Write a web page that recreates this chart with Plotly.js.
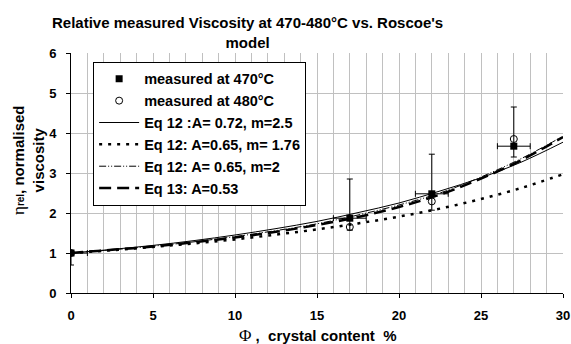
<!DOCTYPE html>
<html>
<head>
<meta charset="utf-8">
<script src="https://cdn.plot.ly/plotly-3.0.1.min.js"></script>
<style>html,body{margin:0;padding:0;background:#fff}#chart{width:571px;height:344px}</style>
</head>
<body>
<div id="chart"></div>
<script>
// measured data
const xMeas = [0, 17, 22, 27];
const y470 = [1.0, 1.87, 2.48, 3.67];
const y470ErrPlus = [0, 0.98, 0.99, 0.98];
const y470ErrMinus = [0.3, 0.3, 0.41, 0.27];
const x470ErrPlus = [1, 1, 1, 1];
const x470ErrMinus = [0, 1, 1, 1];
const y480 = [1.0, 1.65, 2.29, 3.85];

// model curves
const xModel = [0, 2.5, 5, 7.5, 10, 12.5, 15, 17.5, 20, 22.5, 25, 27.5, 30];
const yEq12a = [1.0, 1.09, 1.19, 1.31, 1.45, 1.61, 1.79, 2.01, 2.25, 2.55, 2.88, 3.28, 3.77];
const yEq12b = [1.0, 1.07, 1.15, 1.24, 1.34, 1.46, 1.59, 1.74, 1.91, 2.11, 2.35, 2.63, 2.97];
const yEq12c = [1.0, 1.08, 1.17, 1.28, 1.41, 1.56, 1.73, 1.95, 2.20, 2.50, 2.90, 3.37, 3.92];
const yEq13 = [1.0, 1.08, 1.16, 1.27, 1.39, 1.53, 1.70, 1.90, 2.15, 2.46, 2.86, 3.33, 3.90];

const names = ['measured at 470°C', 'measured at 480°C', 'Eq 12 :A= 0.72, m=2.5',
  'Eq 12: A=0.65, m= 1.76', 'Eq 12: A= 0.65, m=2', 'Eq 13: A=0.53'];

const F = 'Liberation Sans, Arial, sans-serif';
const b = s => '<b>' + s + '</b>';

const traces = [
  {x: xMeas, y: y470, name: b(names[0]), mode: 'markers', type: 'scatter',
   marker: {symbol: 'square', size: 7, color: '#000'},
   error_y: {type: 'data', symmetric: false, array: y470ErrPlus, arrayminus: y470ErrMinus, color: '#000', thickness: 1, width: 3},
   error_x: {type: 'data', symmetric: false, array: x470ErrPlus, arrayminus: x470ErrMinus, color: '#000', thickness: 1, width: 3}},
  {x: xMeas, y: y480, name: b(names[1]), mode: 'markers', type: 'scatter',
   marker: {symbol: 'circle-open', size: 7, color: '#000', line: {width: 1, color: '#000'}}},
  {x: xModel, y: yEq12a, name: b(names[2]), mode: 'lines', type: 'scatter',
   line: {color: '#000', width: 1, shape: 'spline'}},
  {x: xModel, y: yEq12b, name: b(names[3]), mode: 'lines', type: 'scatter',
   line: {color: '#000', width: 2.5, dash: '3px,6px', shape: 'spline'}},
  {x: xModel, y: yEq12c, name: b(names[4]), mode: 'lines', type: 'scatter',
   line: {color: '#000', width: 1, dash: '7px,2px,1px,2px,1px,2px', shape: 'spline'}},
  {x: xModel, y: yEq13, name: b(names[5]), mode: 'lines', type: 'scatter',
   line: {color: '#000', width: 2.5, dash: '12px,6px', shape: 'spline'}}
];

const layout = {
  width: 571, height: 344,
  margin: {l: 71, r: 8, t: 53, b: 51},
  paper_bgcolor: '#fff', plot_bgcolor: '#fff',
  font: {family: F, size: 12, color: '#000'},
  showlegend: true,
  legend: {x: 0.045, y: 0.963, xanchor: 'left', yanchor: 'top',
    bgcolor: '#fff', bordercolor: '#000', borderwidth: 1,
    font: {family: F, size: 14.5, color: '#000'},
    tracegroupgap: 0, itemwidth: 40},
  xaxis: {range: [0, 30], tickvals: [0, 5, 10, 15, 20, 25, 30], automargin: false,
    showgrid: true, gridcolor: '#c0c0c0', gridwidth: 1,
    minor: {dtick: 1, showgrid: true, gridcolor: '#c0c0c0', gridwidth: 1},
    showline: true, linecolor: '#000', linewidth: 1,
    ticks: 'outside', ticklen: 4, tickcolor: '#000', ticklabelstandoff: 6,
    tickfont: {family: F, size: 13, weight: 'bold'}, zeroline: false,
    fixedrange: true},
  yaxis: {range: [0, 6], dtick: 1, automargin: false,
    showgrid: true, gridcolor: '#c0c0c0', gridwidth: 1,
    showline: true, linecolor: '#000', linewidth: 1,
    ticks: 'outside', ticklen: 4, tickcolor: '#000', ticklabelstandoff: 7,
    tickfont: {family: F, size: 13, weight: 'bold'}, zeroline: false,
    fixedrange: true},
  annotations: [
    {text: "<b>Relative measured Viscosity at 470-480°C vs. Roscoe's<br>model</b>",
     xref: 'paper', yref: 'paper', x: 0.358, y: 1.0, xanchor: 'center', yanchor: 'bottom',
     showarrow: false, font: {family: F, size: 15}, yshift: 0},
    {text: "<span style='font-family:Liberation Serif,serif;font-weight:normal;font-size:17px'>Φ</span><b> ,  crystal content  %</b>",
     xref: 'paper', yref: 'paper', x: 0.5, y: 0, xanchor: 'center', yanchor: 'top',
     showarrow: false, font: {family: F, size: 15}, yshift: -31},
    {text: "<span style='font-family:Liberation Serif,serif;font-weight:normal;font-size:17px'>η</span><b><span style='font-size:10px'>rel</span>, normalised</b><br><b>viscosity</b>",
     xref: 'paper', yref: 'paper', x: 0, y: 0.55, xanchor: 'right', yanchor: 'middle',
     textangle: -90, showarrow: false, font: {family: F, size: 15}, xshift: -22}
  ]
};

Plotly.newPlot('chart', traces, layout, {displayModeBar: false, staticPlot: true});
</script>
</body>
</html>
